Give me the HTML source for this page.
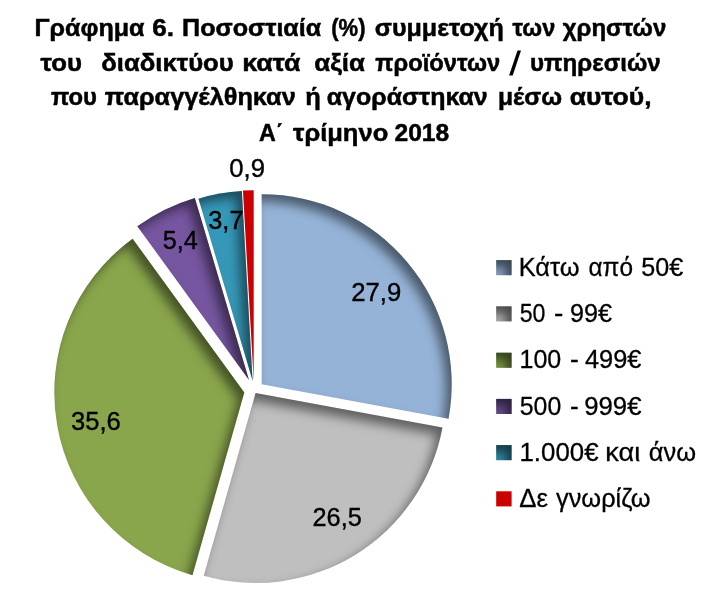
<!DOCTYPE html>
<html><head><meta charset="utf-8"><title>chart</title>
<style>
html,body{margin:0;padding:0;background:#fff;}
body{width:728px;height:601px;overflow:hidden;}
svg{display:block;}
text{font-family:"Liberation Sans",sans-serif;fill:#000;}
.t{font-weight:bold;font-size:24.6px;stroke:#000;stroke-width:0.5px;}
.l{font-size:26px;stroke:#000;stroke-width:0.4px;}
.g{font-size:26px;stroke:#000;stroke-width:0.3px;}
</style></head><body>
<svg width="728" height="601" viewBox="0 0 728 601">
<defs>
<filter id="is" filterUnits="userSpaceOnUse" x="0" y="150" width="728" height="451" color-interpolation-filters="sRGB">
  <feComponentTransfer in="SourceAlpha" result="inv"><feFuncA type="table" tableValues="1 0"/></feComponentTransfer>
  <feGaussianBlur in="inv" stdDeviation="5.5" result="b"/>
  <feOffset in="b" dx="-6.5" dy="6.5" result="o"/>
  <feFlood flood-color="#000" flood-opacity="0.5" result="f"/>
  <feComposite in="f" in2="o" operator="in" result="s"/>
  <feComposite in="s" in2="SourceAlpha" operator="in" result="si"/>
  <feMerge><feMergeNode in="SourceGraphic"/><feMergeNode in="si"/></feMerge>
</filter>
<filter id="is2" filterUnits="userSpaceOnUse" x="470" y="240" width="60" height="290" color-interpolation-filters="sRGB">
  <feComponentTransfer in="SourceAlpha" result="inv"><feFuncA type="table" tableValues="1 0"/></feComponentTransfer>
  <feGaussianBlur in="inv" stdDeviation="5.5" result="b"/>
  <feOffset in="b" dx="-6.5" dy="6.5" result="o"/>
  <feFlood flood-color="#000" flood-opacity="0.62" result="f"/>
  <feComposite in="f" in2="o" operator="in" result="s"/>
  <feComposite in="s" in2="SourceAlpha" operator="in" result="si"/>
  <feMerge><feMergeNode in="SourceGraphic"/><feMergeNode in="si"/></feMerge>
</filter>
</defs>
<rect width="728" height="601" fill="#fff"/>
<g>
<path d="M261.70,384.20 L261.70,194.20 A190.0,190.0 0 0 1 448.55,418.63 Z" fill="#95B3D7" filter="url(#is)"/>
<path d="M255.60,393.00 L442.45,427.43 A190.0,190.0 0 0 1 203.74,575.79 Z" fill="#BFBFBF" filter="url(#is)"/>
<path d="M244.30,392.40 L192.44,575.19 A190.0,190.0 0 0 1 132.62,238.69 Z" fill="#8AA64C" filter="url(#is)"/>
<path d="M249.00,380.00 L137.32,226.29 A190.0,190.0 0 0 1 194.85,197.88 Z" fill="#7656A0" filter="url(#is)"/>
<path d="M252.60,380.80 L198.45,198.68 A190.0,190.0 0 0 1 241.86,191.10 Z" fill="#3698B8" filter="url(#is)"/>
<path d="M253.70,380.30 L242.96,190.60 A190.0,190.0 0 0 1 253.70,190.30 Z" fill="#CC0000"/>
</g>
<g>
<rect x="496.2" y="260.1" width="15.4" height="15.1" fill="#95B3D7" filter="url(#is2)"/>
<rect x="496.2" y="306.3" width="15.4" height="15.1" fill="#BFBFBF" filter="url(#is2)"/>
<rect x="496.2" y="352.7" width="15.4" height="15.1" fill="#8AA64C" filter="url(#is2)"/>
<rect x="496.2" y="398.9" width="15.4" height="15.1" fill="#7656A0" filter="url(#is2)"/>
<rect x="496.2" y="445.1" width="15.4" height="15.1" fill="#3698B8" filter="url(#is2)"/>
<rect x="496.2" y="491.3" width="15.4" height="15.1" fill="#CC0000"/>
</g>
<g opacity="0.999">
<polygon points="509.1,75.4 512.7,75.4 521,50.4 517.5,50.4" fill="#000"/>
<text x="34.51" y="35.75" textLength="109.99" lengthAdjust="spacingAndGlyphs" class="t">Γράφημα</text>
<text x="152.24" y="35.75" textLength="21.78" lengthAdjust="spacingAndGlyphs" class="t">6.</text>
<text x="182.01" y="35.75" textLength="139.24" lengthAdjust="spacingAndGlyphs" class="t">Ποσοστιαία</text>
<text x="331.26" y="35.75" textLength="34.24" lengthAdjust="spacingAndGlyphs" class="t">(%)</text>
<text x="374.75" y="35.75" textLength="129.00" lengthAdjust="spacingAndGlyphs" class="t">συμμετοχή</text>
<text x="512.50" y="35.75" textLength="42.73" lengthAdjust="spacingAndGlyphs" class="t">των</text>
<text x="562.75" y="35.75" textLength="103.49" lengthAdjust="spacingAndGlyphs" class="t">χρηστών</text>
<text x="40.50" y="70.75" textLength="41.48" lengthAdjust="spacingAndGlyphs" class="t">του</text>
<text x="101.25" y="70.75" textLength="132.49" lengthAdjust="spacingAndGlyphs" class="t">διαδικτύου</text>
<text x="242.26" y="70.75" textLength="58.24" lengthAdjust="spacingAndGlyphs" class="t">κατά</text>
<text x="314.27" y="70.75" textLength="50.73" lengthAdjust="spacingAndGlyphs" class="t">αξία</text>
<text x="375.25" y="70.75" textLength="124.99" lengthAdjust="spacingAndGlyphs" class="t">προϊόντων</text>
<text x="530.00" y="70.75" textLength="130.75" lengthAdjust="spacingAndGlyphs" class="t">υπηρεσιών</text>
<text x="51.00" y="105.00" textLength="45.98" lengthAdjust="spacingAndGlyphs" class="t">που</text>
<text x="104.75" y="105.00" textLength="190.99" lengthAdjust="spacingAndGlyphs" class="t">παραγγέλθηκαν</text>
<text x="305.23" y="105.00" textLength="15.55" lengthAdjust="spacingAndGlyphs" class="t">ή</text>
<text x="326.75" y="105.00" textLength="160.99" lengthAdjust="spacingAndGlyphs" class="t">αγοράστηκαν</text>
<text x="498.00" y="105.00" textLength="64.01" lengthAdjust="spacingAndGlyphs" class="t">μέσω</text>
<text x="569.75" y="105.00" textLength="81.76" lengthAdjust="spacingAndGlyphs" class="t">αυτού,</text>
<text x="259.00" y="141.00" textLength="24.50" lengthAdjust="spacingAndGlyphs" class="t">Α΄</text>
<text x="293.00" y="141.00" textLength="95.24" lengthAdjust="spacingAndGlyphs" class="t">τρίμηνο</text>
<text x="394.51" y="141.00" textLength="54.73" lengthAdjust="spacingAndGlyphs" class="t">2018</text>
<text x="351.24" y="301.10" textLength="50.01" lengthAdjust="spacingAndGlyphs" class="l">27,9</text>
<text x="312.50" y="525.80" textLength="49.25" lengthAdjust="spacingAndGlyphs" class="l">26,5</text>
<text x="71.00" y="429.50" textLength="49.74" lengthAdjust="spacingAndGlyphs" class="l">35,6</text>
<text x="162.77" y="249.40" textLength="34.98" lengthAdjust="spacingAndGlyphs" class="l">5,4</text>
<text x="208.25" y="229.15" textLength="35.25" lengthAdjust="spacingAndGlyphs" class="l">3,7</text>
<text x="229.25" y="176.60" textLength="35.74" lengthAdjust="spacingAndGlyphs" class="l">0,9</text>
<text x="518.73" y="276.10" textLength="60.79" lengthAdjust="spacingAndGlyphs" class="g">Κάτω</text>
<text x="588.51" y="276.10" textLength="44.48" lengthAdjust="spacingAndGlyphs" class="g">από</text>
<text x="641.27" y="276.10" textLength="41.98" lengthAdjust="spacingAndGlyphs" class="g">50€</text>
<text x="519.76" y="321.50" textLength="25.73" lengthAdjust="spacingAndGlyphs" class="g">50</text>
<text x="553.96" y="321.50" textLength="9.33" lengthAdjust="spacingAndGlyphs" class="g">-</text>
<text x="570.02" y="321.50" textLength="41.98" lengthAdjust="spacingAndGlyphs" class="g">99€</text>
<text x="519.48" y="368.10" textLength="41.79" lengthAdjust="spacingAndGlyphs" class="g">100</text>
<text x="569.99" y="368.10" textLength="8.77" lengthAdjust="spacingAndGlyphs" class="g">-</text>
<text x="585.01" y="368.10" textLength="56.48" lengthAdjust="spacingAndGlyphs" class="g">499€</text>
<text x="519.76" y="414.60" textLength="41.49" lengthAdjust="spacingAndGlyphs" class="g">500</text>
<text x="569.99" y="414.60" textLength="8.77" lengthAdjust="spacingAndGlyphs" class="g">-</text>
<text x="584.26" y="414.60" textLength="57.23" lengthAdjust="spacingAndGlyphs" class="g">999€</text>
<text x="519.50" y="461.10" textLength="79.00" lengthAdjust="spacingAndGlyphs" class="g">1.000€</text>
<text x="605.24" y="461.10" textLength="35.01" lengthAdjust="spacingAndGlyphs" class="g">και</text>
<text x="648.75" y="461.10" textLength="47.25" lengthAdjust="spacingAndGlyphs" class="g">άνω</text>
<text x="519.27" y="506.50" textLength="28.71" lengthAdjust="spacingAndGlyphs" class="g">Δε</text>
<text x="556.00" y="506.50" textLength="94.49" lengthAdjust="spacingAndGlyphs" class="g">γνωρίζω</text>
</g>
</svg>
</body></html>
